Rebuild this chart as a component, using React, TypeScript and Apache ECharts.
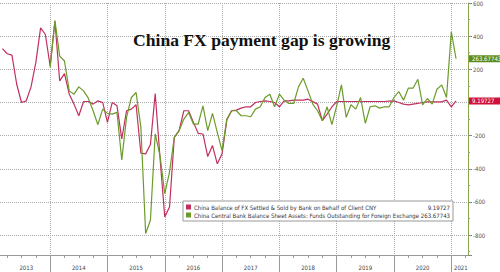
import React, { useEffect, useRef } from "react";
import * as echarts from "echarts";

// Monthly categories: Feb 2013 .. Mar 2021
const START_YEAR = 2013;
const START_MONTH = 2;
const MONTH_COUNT = 98;
const months: string[] = [];
for (let i = 0; i < MONTH_COUNT; i++) {
  const t = START_MONTH - 1 + i;
  const y = START_YEAR + Math.floor(t / 12);
  const m = (t % 12) + 1;
  months.push(`${y}-${String(m).padStart(2, "0")}`);
}

const YEAR_LABEL_MONTHS = ["2013-07", "2014-06", "2015-06", "2016-06", "2017-06", "2018-06", "2019-06", "2020-06", "2021-02"];

const RED_NAME = "China Balance of FX Settled & Sold by Bank on Behalf of Client CNY";
const GREEN_NAME = "China Central Bank Balance Sheet Assets: Funds Outstanding for Foreign Exchange";
const RED_LAST = "9.19727";
const GREEN_LAST = "263.67743";

const fxSettled2013 = [325, 294, 286, 110, 0, 10, 94, 240, 450, 410, 220];
const fxSettled2014 = [490, 130, 174, 50, -10, -80, 6, 6, -10, 10, 0, -120];
const fxSettled2015 = [0, -20, -220, -50, -40, -14, -306, -310, -254, 54, -330, -690];
const fxSettled2016 = [-630, -210, -170, -50, -50, -120, -186, -190, -326, -260, -370, -310];
const fxSettled2017 = [-106, -50, -46, -34, -26, -26, 0, 6, 10, 6, 0, -26];
const fxSettled2018 = [10, 10, 14, 14, 14, 20, 5, -10, -110, -70, -26, 6];
const fxSettled2019 = [6, 6, 6, 6, 6, 6, 6, 6, 6, 6, 8, 10];
const fxSettled2020 = [0, -10, -14, -10, -6, 0, 4, 4, 4, 4, 14, -26];
const fxSettled2021 = [9.19727];

const funds2013 = [null, null, null, null, null, null, null, null, null, null, 210];
const funds2014 = [494, 280, 250, 70, 50, 94, 70, 26, -50, -134, -40, -66];
const funds2015 = [-70, -60, -346, -90, 30, 60, -150, -790, -710, -190, -320, -550];
const funds2016 = [-420, -210, -170, -100, -60, -130, -130, -20, -170, -66, -180, -290];
const funds2017 = [-100, -50, -50, -80, -80, -86, -40, -26, 30, 50, -26, 50];
const funds2018 = [14, -6, -6, 94, 146, 70, -10, -50, -110, -26, -134, -20];
const funds2019 = [106, -90, -14, -40, 30, -126, -26, -20, -34, -26, -26, 30];
const funds2020 = [66, 14, 86, 86, 140, -14, 24, -10, 80, 106, 30, 426];
const funds2021 = [263.67743];

const fxSettled = [
  ...fxSettled2013, ...fxSettled2014, ...fxSettled2015, ...fxSettled2016,
  ...fxSettled2017, ...fxSettled2018, ...fxSettled2019, ...fxSettled2020, ...fxSettled2021,
];
const funds = [
  ...funds2013, ...funds2014, ...funds2015, ...funds2016,
  ...funds2017, ...funds2018, ...funds2019, ...funds2020, ...funds2021,
];

const RED = "#c2305e";
const GREEN = "#6c9b2b";
const SMALL_FONT = "'DejaVu Sans Condensed', 'Liberation Sans Narrow', 'Liberation Sans', sans-serif";

export default function App() {
  const ref = useRef<HTMLDivElement>(null);
  useEffect(() => {
    if (!ref.current) return;
    const chart = echarts.init(ref.current, undefined, { renderer: "svg" });
    const isYearEnd = (_i: number, v: string) => v.endsWith("-12");
    const isQuarter = (_i: number, v: string) => v.endsWith("-03") || v.endsWith("-06") || v.endsWith("-09");
    const lastVals: Record<string, string> = { [RED_NAME]: RED_LAST, [GREEN_NAME]: GREEN_LAST };
    const tag = (text: string, bg: string) => ({
      show: true,
      distance: 13,
      formatter: text,
      color: "#fff",
      backgroundColor: bg,
      fontSize: 6,
      fontFamily: SMALL_FONT,
      padding: [1, 8, 0, 3],
    });
    chart.setOption({
      animation: false,
      backgroundColor: "#fff",
      title: {
        text: "China FX payment gap is growing",
        left: 133,
        top: 31,
        padding: 0,
        textStyle: { fontFamily: "'Liberation Serif', serif", fontWeight: "bold", fontSize: 17.6, color: "#111" },
      },
      grid: { left: 0, right: 32, top: 2, bottom: 17, containLabel: false },
      legend: {
        orient: "vertical",
        left: 183,
        top: 201,
        padding: [3, 3, 3, 3],
        itemWidth: 5,
        itemHeight: 5,
        itemGap: 2,
        icon: "rect",
        borderColor: "#999",
        borderWidth: 1,
        backgroundColor: "#fff",
        data: [RED_NAME, GREEN_NAME],
        formatter: (name: string) => `{n|${name}}{v|${lastVals[name]}}`,
        textStyle: {
          fontSize: 6,
          fontFamily: SMALL_FONT,
          color: "#333",
          padding: [0, 0, 0, -2],
          rich: {
            n: { fontSize: 6, fontFamily: SMALL_FONT, color: "#333", width: 225 },
            v: { fontSize: 6, fontFamily: SMALL_FONT, color: "#333", width: 31, align: "right" },
          },
        },
      },
      xAxis: [
        {
          type: "category",
          data: months,
          boundaryGap: true,
          axisLine: { show: true, onZero: false, lineStyle: { color: "#999", width: 1 } },
          axisTick: { show: true, alignWithLabel: true, interval: isYearEnd, length: 17, lineStyle: { color: "#999" } },
          axisLabel: {
            show: true,
            interval: (_i: number, v: string) => YEAR_LABEL_MONTHS.includes(v),
            formatter: (v: string) => v.slice(0, 4),
            fontSize: 6,
            color: "#444",
            fontFamily: SMALL_FONT,
            margin: 9,
          },
          splitLine: { show: true, alignWithLabel: true, interval: isYearEnd, lineStyle: { type: "dotted", color: "#aaa", width: 1 } },
        },
        {
          type: "category",
          data: months,
          boundaryGap: true,
          position: "bottom",
          axisLine: { show: false, onZero: false },
          axisTick: { show: true, alignWithLabel: true, interval: isQuarter, length: 3, lineStyle: { color: "#999" } },
          axisLabel: { show: false },
          splitLine: { show: false },
        },
      ],
      yAxis: {
        type: "value",
        position: "right",
        min: -920,
        max: 600,
        splitNumber: 7,
        axisLine: { show: true, lineStyle: { color: "#8aa64a", width: 1 } },
        axisTick: { show: true, length: 4, lineStyle: { color: "#888" } },
        minorTick: { show: true, splitNumber: 2, length: 2, lineStyle: { color: "#999" } },
        axisLabel: {
          fontSize: 6,
          color: "#555",
          fontFamily: SMALL_FONT,
          margin: 5,
          formatter: (v: number) => (v % 200 === 0 && v !== 0 ? String(v) : ""),
        },
        splitLine: { show: true, lineStyle: { type: "dotted", color: "#aaa" } },
      },
      series: [
        {
          name: RED_NAME,
          type: "line",
          data: fxSettled,
          symbol: "none",
          lineStyle: { color: RED, width: 1.2 },
          itemStyle: { color: RED },
          endLabel: tag(RED_LAST, "#d0103a"),
        },
        {
          name: GREEN_NAME,
          type: "line",
          data: funds,
          symbol: "none",
          lineStyle: { color: GREEN, width: 1.2 },
          itemStyle: { color: GREEN },
          endLabel: tag(GREEN_LAST, "#5b8c1c"),
        },
      ],
    });
    return () => chart.dispose();
  }, []);
  return <div ref={ref} style={{ position: "fixed", left: 0, top: 0, width: 500, height: 272 }} />;
}
